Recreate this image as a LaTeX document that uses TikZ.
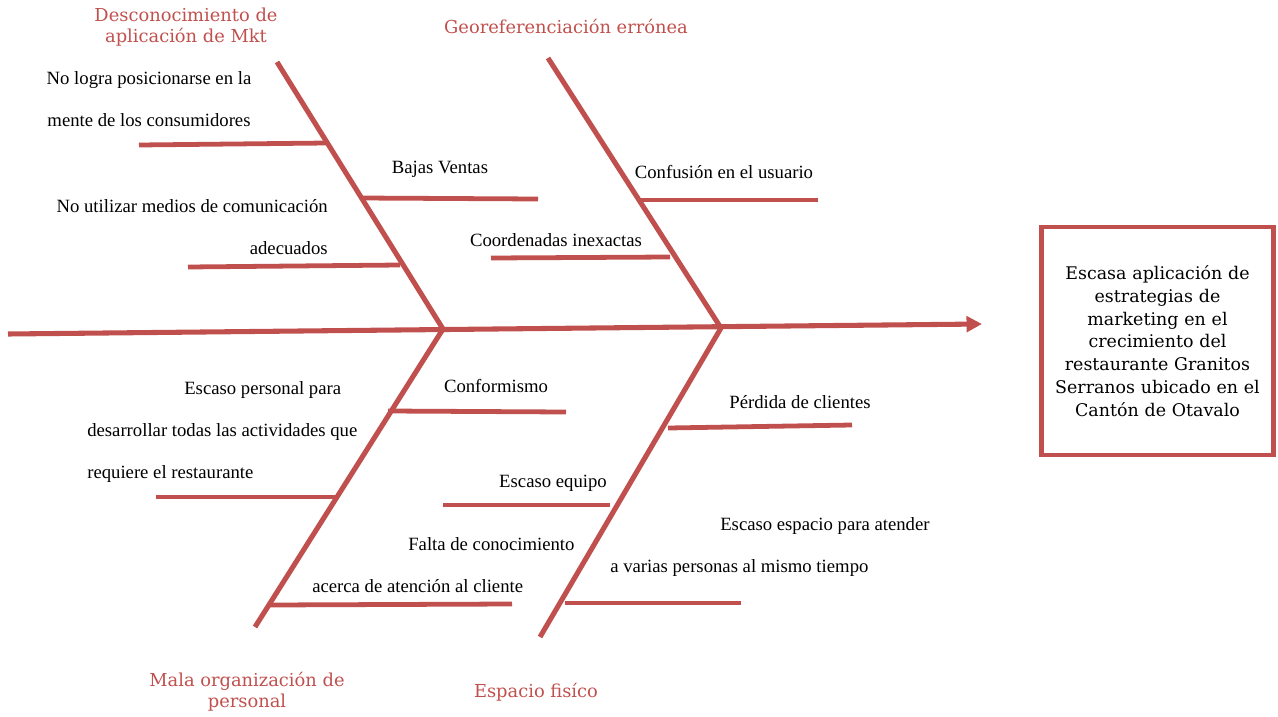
\documentclass[tikz,border=0pt]{standalone}
\usepackage{fontspec}
\setmainfont{Liberation Serif}
\newfontfamily\headfont{DejaVu Serif}
\usetikzlibrary{arrows.meta}
\definecolor{fishred}{HTML}{C0504D}

\begin{document}
\begin{tikzpicture}[
        x=0.025cm, y=-0.025cm,
        every node/.style={inner sep=0pt},
        spine/.style={draw=fishred, line width=3.6pt, -{Triangle[length=11pt, width=11pt]}},
        bone/.style={draw=fishred, line width=3.6pt},
        twig/.style={draw=fishred, line width=3.4pt},
        cause/.style={font=\fontsize{13.3}{30}\selectfont, align=center},
        head/.style={font=\headfont\fontsize{12.7}{15}\selectfont, text=fishred, align=center},
        effect/.style={draw=fishred, line width=3pt, align=center,
                       font=\headfont\fontsize{12.4}{16.2}\selectfont}
    ]
    \useasboundingbox (0,0) rectangle (1278,717);

    % Spine ------------------------------------------------
    \coordinate (tail) at (8,334);
    \coordinate (tip)  at (982,324);
    \coordinate (j1)   at (443,329);
    \coordinate (j2)   at (721,328);
    \draw[spine] (tail) -- (tip);

    \node[effect, minimum width=5.8cm, minimum height=5.7cm, text width=5.6cm] (problem) at (1157.5,341)
        {Escasa aplicación de\\estrategias de\\marketing en el\\crecimiento del\\restaurante Granitos\\Serranos ubicado en el\\Cantón de Otavalo};

    % Bones ------------------------------------------------
    \coordinate (b1) at (277,62);
    \coordinate (b2) at (548,58);
    \coordinate (b3) at (255,627);
    \coordinate (b4) at (540,637);
    \draw[bone] (b1) -- (j1);
    \draw[bone] (b2) -- (j2);
    \draw[bone] (j1) -- (b3);
    \draw[bone] (j2) -- (b4);

    % Headings
    \node[head] (mkt)   at (186,27)  {Desconocimiento de\\aplicación de Mkt};
    \node[head] (geo)   at (566,26)  {Georeferenciación errónea};
    \node[head] (org)   at (247,692) {Mala organización de\\personal};
    \node[head] (space) at (536,692) {Espacio fisíco};

    % Twigs: upper left
    \coordinate (t1a) at (139,145); \coordinate (t1b) at (327,143);
    \coordinate (t2a) at (360,198); \coordinate (t2b) at (538,199);
    \coordinate (t3a) at (188,267); \coordinate (t3b) at (400,265);
    \draw[twig] (t1a) -- (t1b);
    \draw[twig] (t2a) -- (t2b);
    \draw[twig] (t3a) -- (t3b);
    \node[cause] (pos)   at (149,99)  {No logra posicionarse en la\\mente de los consumidores};
    \node[cause] (sales) at (440,169) {Bajas Ventas};
    \node[cause, align=right, anchor=east] (media) at (328,227) {No utilizar medios de comunicación\\adecuados};

    % Twigs: upper right
    \coordinate (t4a) at (638,200); \coordinate (t4b) at (818,200);
    \coordinate (t5a) at (491,258); \coordinate (t5b) at (670,257);
    \draw[twig] (t4a) -- (t4b);
    \draw[twig] (t5a) -- (t5b);
    \node[cause] (conf)  at (724,172) {Confusión en el usuario};
    \node[cause] (coord) at (556,240) {Coordenadas inexactas};

    % Twigs: lower left
    \coordinate (t6a) at (388,411); \coordinate (t6b) at (566,412);
    \coordinate (t7a) at (156,497); \coordinate (t7b) at (335,497);
    \coordinate (t8a) at (270,605); \coordinate (t8b) at (512,604);
    \draw[twig] (t6a) -- (t6b);
    \draw[twig] (t7a) -- (t7b);
    \draw[twig] (t8a) -- (t8b);
    \node[cause] (conform) at (496,386) {Conformismo};
    \node[cause, align=left, anchor=west] (staff) at (87,432)
        {\hspace*{2.425cm}Escaso personal para\\desarrollar todas las actividades que\\requiere el restaurante};
    \node[cause, align=left, anchor=west] (know) at (312,565)
        {\hspace*{2.4cm}Falta de conocimiento\\acerca de atención al cliente};

    % Twigs: lower right
    \coordinate (t9a)  at (668,428); \coordinate (t9b)  at (852,425);
    \coordinate (t10a) at (443,505); \coordinate (t10b) at (610,505);
    \coordinate (t11a) at (565,603); \coordinate (t11b) at (741,603);
    \draw[twig] (t9a) -- (t9b);
    \draw[twig] (t10a) -- (t10b);
    \draw[twig] (t11a) -- (t11b);
    \node[cause] (lost)  at (800,402) {Pérdida de clientes};
    \node[cause] (equip) at (553,483) {Escaso equipo};
    \node[cause, align=left, anchor=west] (room) at (610,547)
        {\hspace*{2.75cm}Escaso espacio para atender\\a varias personas al mismo tiempo};
\end{tikzpicture}
\end{document}
